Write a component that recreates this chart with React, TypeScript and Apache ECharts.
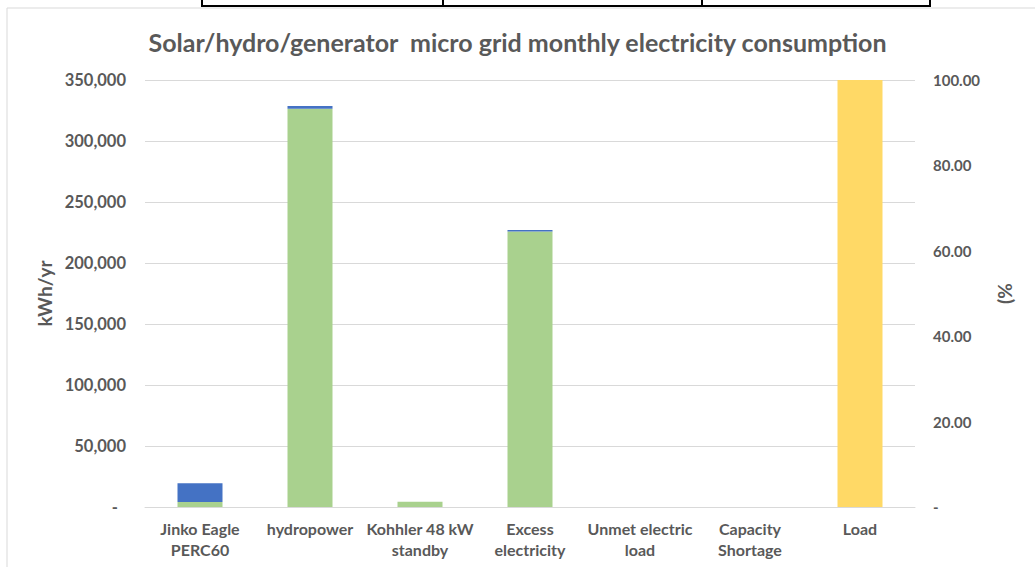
import React, { useEffect, useRef } from "react";
import * as echarts from "echarts";

const categories = [
  "Jinko Eagle\nPERC60",
  "hydropower",
  "Kohhler 48 kW\nstandby",
  "Excess\nelectricity",
  "Unmet electric\nload",
  "Capacity\nShortage",
  "Load",
];
const greenValues = [4000, 326500, 4300, 225800, 0, 0, null];
const blueValues = [15500, 2200, 0, 1200, 0, 0, null];
const loadPercent = [null, null, null, null, null, null, 100];

const titleText = "Solar/hydro/generator  micro grid monthly electricity consumption";
const leftAxisName = "kWh/yr";
const rightAxisName = "(%";

const FONT = "Lato, 'Open Sans', sans-serif";
const GREY = "#595959";

export default function App() {
  const ref = useRef<HTMLDivElement>(null);
  useEffect(() => {
    if (!ref.current) return;
    const chart = echarts.init(ref.current, null, { renderer: "svg" });
    const fmtLeft = (v: number) => (v === 0 ? "-  " : v.toLocaleString("en-US"));
    const fmtRight = (v: number) => (v === 0 ? "-" : v.toFixed(2));
    chart.setOption({
      animation: false,
      backgroundColor: "#ffffff",
      title: {
        text: titleText,
        left: "center",
        top: 24,
        textStyle: { fontFamily: FONT, fontSize: 25, fontWeight: "bold", color: GREY },
      },
      grid: { left: 145, right: 120, top: 80, bottom: 60 },
      xAxis: {
        type: "category",
        data: categories,
        axisLine: { lineStyle: { color: "#d9d9d9" } },
        axisTick: { show: false },
        axisLabel: {
          interval: 0,
          margin: 11,
          fontFamily: FONT,
          fontSize: 16,
          fontWeight: "bold",
          color: GREY,
          lineHeight: 21,
        },
      },
      yAxis: [
        {
          type: "value",
          min: 0,
          max: 350000,
          interval: 50000,
          name: leftAxisName,
          nameLocation: "middle",
          nameGap: 90,
          nameRotate: 90,
          nameTextStyle: { fontFamily: FONT, fontSize: 19, fontWeight: "bold", color: GREY },
          axisLine: { show: false },
          axisTick: { show: false },
          splitLine: { lineStyle: { color: "#d9d9d9" } },
          axisLabel: { formatter: fmtLeft, margin: 19, fontFamily: FONT, fontSize: 16.5, fontWeight: "bold", color: GREY },
        },
        {
          type: "value",
          min: 0,
          max: 100,
          interval: 20,
          name: rightAxisName,
          nameLocation: "middle",
          nameGap: 80,
          nameRotate: 90,
          nameTextStyle: { fontFamily: FONT, fontSize: 19, fontWeight: "bold", color: GREY },
          axisLine: { show: false },
          axisTick: { show: false },
          splitLine: { show: false },
          axisLabel: { formatter: fmtRight, margin: 18, fontFamily: FONT, fontSize: 15, fontWeight: "bold", color: GREY },
        },
      ],
      series: [
        {
          type: "bar",
          stack: "energy",
          data: greenValues,
          barWidth: 45,
          barGap: "-100%",
          itemStyle: { color: "#a9d18e" },
          silent: true,
        },
        {
          type: "bar",
          stack: "energy",
          data: blueValues,
          barWidth: 45,
          barGap: "-100%",
          itemStyle: { color: "#4472c4" },
          silent: true,
        },
        {
          type: "bar",
          yAxisIndex: 1,
          data: loadPercent,
          barWidth: 45,
          barGap: "-100%",
          itemStyle: { color: "#ffd966" },
          silent: true,
        },
      ],
      graphic: [
        {
          type: "rect",
          shape: { x: 7, y: 8, width: 1040, height: 570 },
          style: { fill: "none", stroke: "#d9d9d9", lineWidth: 1 },
          silent: true,
          z: -1,
        },
        {
          type: "rect",
          shape: { x: 202, y: -10, width: 728, height: 16 },
          style: { fill: "none", stroke: "#000000", lineWidth: 2 },
          silent: true,
        },
        {
          type: "line",
          shape: { x1: 443, y1: 0, x2: 443, y2: 6 },
          style: { stroke: "#000000", lineWidth: 2 },
          silent: true,
        },
        {
          type: "line",
          shape: { x1: 702, y1: 0, x2: 702, y2: 6 },
          style: { stroke: "#000000", lineWidth: 2 },
          silent: true,
        },
      ],
    });
    return () => chart.dispose();
  }, []);
  return (
    <div
      ref={ref}
      style={{ position: "fixed", left: 0, top: 0, width: 1035, height: 567, background: "#fff" }}
    />
  );
}
